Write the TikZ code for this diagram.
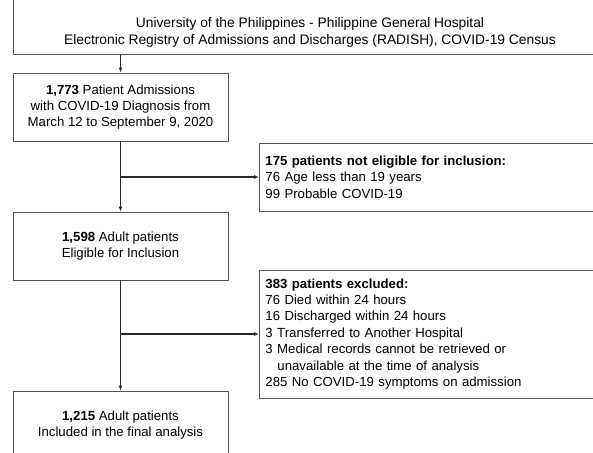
\documentclass[tikz,border=0pt]{standalone}
\usepackage{fontspec}
\setmainfont{Liberation Sans}
\usepackage{tikz}
\usetikzlibrary{arrows.meta}
\definecolor{boxline}{RGB}{85,85,85}
\definecolor{arrowline}{RGB}{40,40,40}
\newcommand{\flowfont}{\fontsize{13.2}{16.4}\selectfont}
\newcommand{\censusfont}{\fontsize{13.8}{17}\selectfont}
\tikzset{
  stagebox/.style={draw=boxline, line width=0.9pt, minimum width=215pt, minimum height=68pt, align=center, inner sep=4pt, font=\flowfont},
  dropbox/.style={draw=boxline, line width=0.9pt, anchor=west, text width=400pt, inner sep=6pt, align=left, font=\flowfont},
  flowline/.style={draw=arrowline, line width=1.1pt, -{Latex[length=5pt,width=4pt]}}
}
\begin{document}
\begin{tikzpicture}[x=1pt,y=-1pt]
\useasboundingbox (0,0) rectangle (593,452);
\node[draw=boxline, line width=0.9pt, minimum width=588pt, minimum height=75pt, anchor=south west] (censusbox) at (13,55) {};
\node[align=center, font=\censusfont] (census) at (310,32) {University of the Philippines - Philippine General Hospital\\Electronic Registry of Admissions and Discharges (RADISH), COVID-19 Census};
\node[stagebox] (admitted) at (120.5,107) {\textbf{1,773} Patient Admissions\\with COVID-19 Diagnosis from\\March 12 to September 9, 2020};
\node[stagebox] (eligible) at (120.5,246) {\textbf{1,598} Adult patients\\Eligible for Inclusion};
\node[stagebox] (analysed) at (120.5,425) {\textbf{1,215} Adult patients\\Included in the final analysis};
\node[dropbox, minimum height=68pt] (noteligible) at (259,177) {\textbf{175 patients not eligible for inclusion:}\\76 Age less than 19 years\\99 Probable COVID-19};
\node[dropbox, text height=12pt, text depth=104pt] (excluded) at (259,334) {\textbf{383 patients excluded:}\\76 Died within 24 hours\\16 Discharged within 24 hours\\3 Transferred to Another Hospital\\3 Medical records cannot be retrieved or\\\hspace*{12pt}unavailable at the time of analysis\\285 No COVID-19 symptoms on admission};
\draw[flowline] (admitted.north |- censusbox.south) -- (admitted.north);
\draw[flowline] (admitted.south) -- (eligible.north);
\draw[flowline] (admitted.south |- noteligible.west) -- (noteligible.west);
\draw[flowline] (eligible.south) -- (analysed.north);
\draw[flowline] (eligible.south |- excluded.west) -- (excluded.west);
\end{tikzpicture}
\end{document}
